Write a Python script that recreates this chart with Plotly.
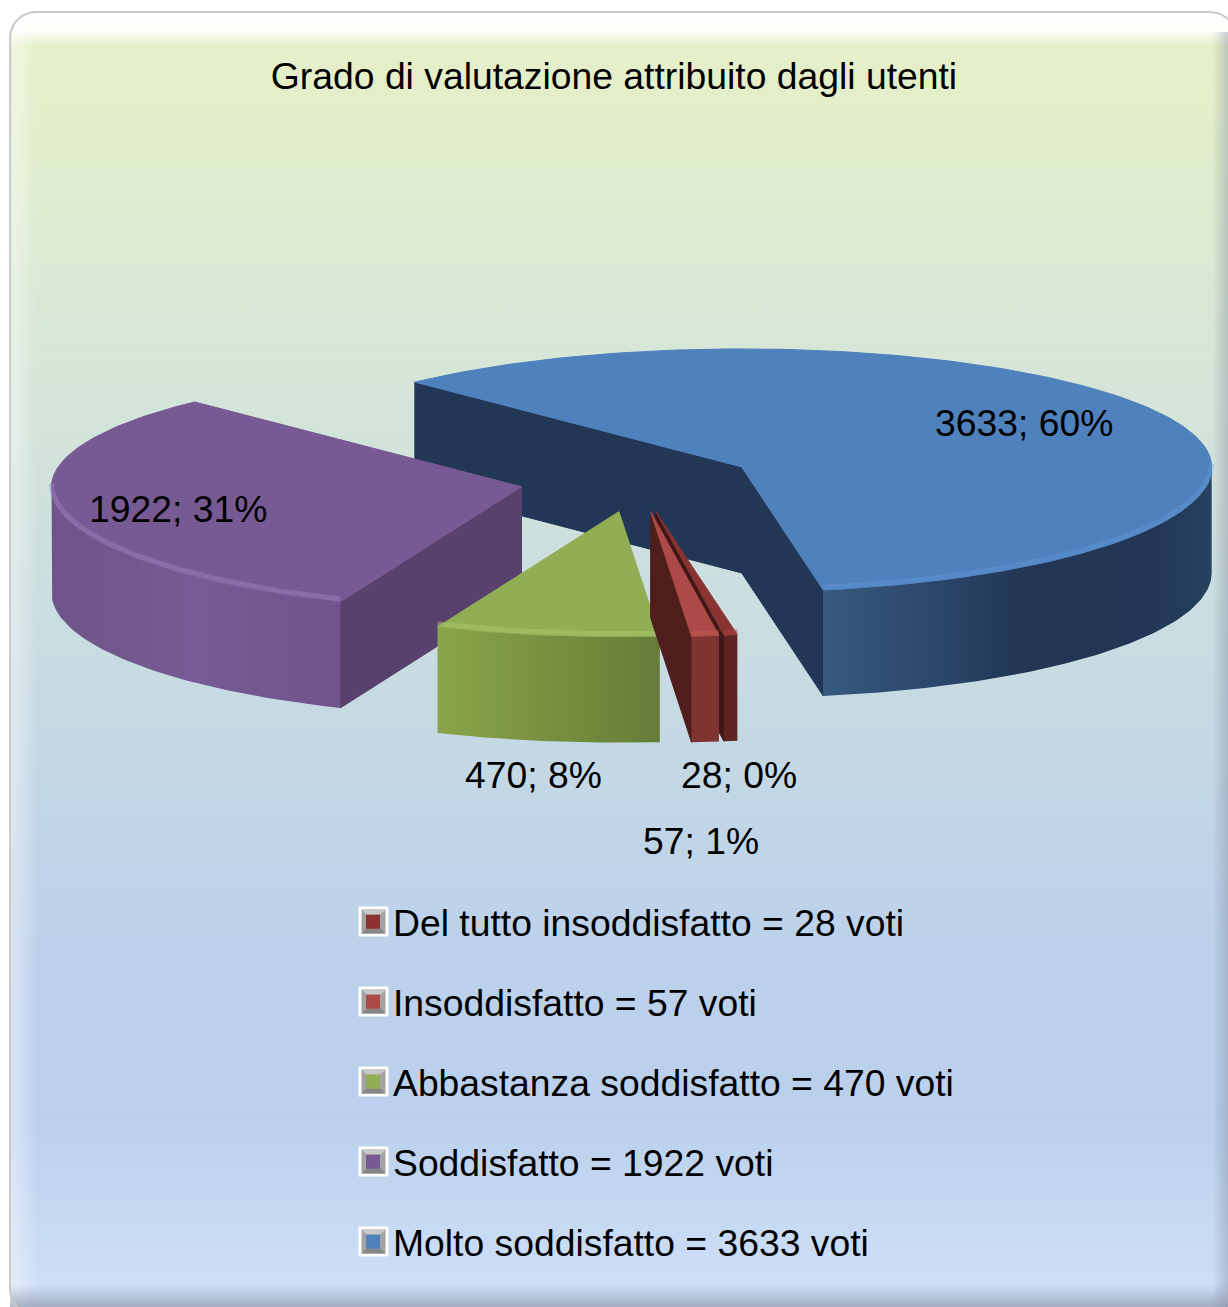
import math
import plotly.graph_objects as go

# ---- data
categories = ["Del tutto insoddisfatto", "Insoddisfatto", "Abbastanza soddisfatto", "Soddisfatto", "Molto soddisfatto"]
votes = [28, 57, 470, 1922, 3633]
percent_labels = [0, 1, 8, 31, 60]
title_text = "Grado di valutazione attribuito dagli utenti"

# ---- styles
top_colors = ["#8a3331", "#ad4a47", "#91ae55", "#775a93", "#4f81bd"]
rim_colors = ["rgba(165,70,68,0.5)", "rgba(198,90,86,0.5)", "rgba(170,200,105,0.5)",
              "rgba(160,132,196,0.45)", "rgba(105,160,225,0.32)"]
wall_colors = ["#3f1716", "#4f1d1c", "#5c7031", "#58416d", "#213755"]
outer_stops = [
    [[0, "#5e2220"], [1, "#5e2220"]],
    [[0, "#7f3432"], [1, "#7f3432"]],
    [[0, "#89a54b"], [0.5, "#77903f"], [1, "#667c38"]],
    [[0, "#6e5488"], [0.5, "#775b94"], [1, "#70538b"]],
    [[0, "#36597f"], [0.3, "#2a466a"], [0.5, "#213754"], [0.85, "#213755"], [1, "#27415f"]],
]
label_pos = [(739, 775), (701, 841), (533, 775), (178, 509), (1024, 423)]
FONT = "Liberation Sans"
FS = 37.3
W, H = 1228, 1307
CX, CY, RX, RY_BACK, RY_FRONT, RY_EXPL = 637, 481, 470, 118, 125, 124
EXPLODE, DEPTH, START_ANGLE = 0.25, 106, 170.0

fig = go.Figure()


def top_down(stops):
    """fillgradient 'vertical' runs bottom to top; write the stops top to bottom."""
    return [[round(1 - p, 4), c] for p, c in reversed(stops)]


def poly(pts, color=None, gradient=None, seam=False):
    xs = [p[0] for p in pts] + [pts[0][0]]
    ys = [p[1] for p in pts] + [pts[0][1]]
    kw = dict(fillgradient=gradient) if gradient else dict(fillcolor=color)
    line = dict(width=1, color=color) if seam else dict(width=0, color="rgba(0,0,0,0)")
    fig.add_trace(go.Scatter(x=xs, y=ys, mode="lines", fill="toself", line=line,
                             hoverinfo="skip", showlegend=False, **kw))


# ---- frame with gradient
FL, FT, FR, FB, RAD = 10, 12, 1236, 1315, 26


def frame_pts():
    pts = []
    corners = [(FR - RAD, FT + RAD, -90), (FR - RAD, FB - RAD, 0), (FL + RAD, FB - RAD, 90), (FL + RAD, FT + RAD, 180)]
    for cx, cy, a0 in corners:
        for k in range(13):
            a = math.radians(a0 + 90 * k / 12)
            pts.append((cx + RAD * math.cos(a), cy + RAD * math.sin(a)))
    return pts


frame = frame_pts()
bg_stops = [[0, "#e6f0c9"], [0.08, "#e3efca"], [0.22, "#d9e8d5"], [0.38, "#cfe1dd"], [0.55, "#c5d9e4"],
            [0.72, "#bcd1eb"], [0.85, "#bad0ec"], [0.95, "#cadcf5"], [1, "#d0e0f8"]]
poly(frame, gradient=dict(type="vertical", colorscale=top_down(bg_stops)))
poly([p for p in frame if p[0] <= 38], gradient=dict(type="horizontal", colorscale=[[0, "rgba(255,255,255,0.45)"], [0.7, "rgba(255,255,255,0.18)"], [1, "rgba(255,255,255,0)"]]))
top_band = [p for p in frame if p[1] <= FT + RAD and p[0] > W / 2] + [(FL, FT + RAD), (FL, 46), (FR, 46), (FR, FT + RAD)]
top_band = [p for p in frame if p[1] <= FT + RAD and p[0] < W / 2] + [p for p in frame if p[1] <= FT + RAD and p[0] > W / 2] + [(FR, 46), (FL, 46)]
poly(top_band, gradient=dict(type="vertical", colorscale=top_down([[0, "rgba(255,255,255,0.95)"], [0.55, "rgba(255,255,255,0.9)"], [1, "rgba(255,255,255,0)"]])))
poly([(1212, FT + 20), (FR, FT + 20), (FR, FB), (1212, FB)], gradient=dict(type="horizontal", colorscale=[[0, "rgba(120,130,150,0)"], [1, "rgba(120,130,150,0.55)"]]))
poly([(FL, 1285), (FR, 1285), (FR, FB), (FL, FB)], gradient=dict(type="vertical", colorscale=top_down([[0, "rgba(120,130,150,0)"], [1, "rgba(120,130,150,0.75)"]])))
fig.add_trace(go.Scatter(x=[p[0] for p in frame] + [frame[0][0]], y=[p[1] for p in frame] + [frame[0][1]],
                         mode="lines", line=dict(color="#c9c9c9", width=2), hoverinfo="skip", showlegend=False))

# ---- exploded 3D slices, computed from the votes
total = sum(votes)
edges = [START_ANGLE]
for v in votes:
    edges.append(edges[-1] + 360 * v / total)


def rim(apex, deg):
    t = math.radians(deg)
    ry = RY_BACK if math.cos(t) > 0 else RY_FRONT
    return (apex[0] + RX * math.sin(t), apex[1] - ry * math.cos(t))


def down(p):
    return (p[0], p[1] + DEPTH)


def arc_degs(a, b, step=1.0):
    n = max(2, int((b - a) / step) + 1)
    return [a + (b - a) * k / (n - 1) for k in range(n)]


slices = []
for i in range(len(votes)):
    a0, a1 = edges[i], edges[i + 1]
    mid = math.radians((a0 + a1) / 2)
    apex = (CX + EXPLODE * RX * math.sin(mid), CY - EXPLODE * RY_EXPL * math.cos(mid))
    slices.append((i, a0, a1, apex))

# painter's order: farthest first
for i in [4, 3, 2, 0, 1]:
    _, a0, a1, apex = slices[i]
    # radial walls facing the viewer
    for edge, normal in [(a0, a0 - 90), (a1, a1 + 90)]:
        if math.cos(math.radians(normal)) < 0:
            p = rim(apex, edge)
            poly([apex, p, down(p), down(apex)], color=wall_colors[i], seam=True)
    # outer wall: part of the arc on the front half
    spans = []
    for k in (0, 360):
        lo, hi = max(a0, 90 + k), min(a1, 270 + k)
        if hi > lo:
            spans.append((lo, hi))
    for lo, hi in spans:
        arc = [rim(apex, d) for d in arc_degs(lo, hi)]
        pts = arc + [down(q) for q in reversed(arc)]
        poly(pts, gradient=dict(type="horizontal", colorscale=outer_stops[i]))
    # top face
    poly([apex] + [rim(apex, d) for d in arc_degs(a0, a1)], color=top_colors[i], seam=True)
    # bevelled rim highlight
    for lo, hi in spans:
        arc = [rim(apex, d) for d in arc_degs(lo, hi)]
        fig.add_trace(go.Scatter(x=[q[0] for q in arc], y=[q[1] - 3 for q in arc], mode="lines",
                                 line=dict(color=rim_colors[i], width=5), hoverinfo="skip", showlegend=False))

# ---- legend entries, in the reference's order
for i, cat in enumerate(categories):
    fig.add_trace(go.Scatter(x=[None], y=[None], mode="markers", name=f"{cat} = {votes[i]} voti",
                             legendgroup=cat,
                             marker=dict(symbol="square", size=14, color=top_colors[i], line=dict(width=0)),
                             hoverinfo="skip"))

# ---- data labels
annotations = []
for i, (x, y) in enumerate(label_pos):
    annotations.append(dict(x=x, y=y, xref="x", yref="y", text=f"{votes[i]}; {percent_labels[i]}%", showarrow=False,
                            xanchor="center", yanchor="middle", font=dict(family=FONT, size=FS, color="#000000")))

# ---- bevelled white boxes sitting behind the legend swatches
ICON_X, ICON_Y, ICON_STEP = 373.5, 921.5, 80
shapes = []
for i in range(len(categories)):
    yc = ICON_Y + ICON_STEP * i
    shapes.append(dict(type="rect", xref="x", yref="y", x0=ICON_X - 15, x1=ICON_X + 15, y0=yc - 15, y1=yc + 15,
                       fillcolor="#ffffff", line=dict(width=0)))
    shapes.append(dict(type="rect", xref="x", yref="y", x0=ICON_X - 12, x1=ICON_X + 12, y0=yc - 12, y1=yc + 12,
                       fillcolor="#a3a3a3", line=dict(width=0)))
    shapes.append(dict(type="path", xref="x", yref="y",
                       path=f"M {ICON_X-12} {yc-12} L {ICON_X+12} {yc-12} L {ICON_X+7} {yc-7} L {ICON_X-7} {yc-7} Z",
                       fillcolor="#c8c8c8", line=dict(width=0)))
    shapes.append(dict(type="path", xref="x", yref="y",
                       path=f"M {ICON_X-12} {yc+12} L {ICON_X+12} {yc+12} L {ICON_X+7} {yc+7} L {ICON_X-7} {yc+7} Z",
                       fillcolor="#868686", line=dict(width=0)))

fig.update_layout(
    width=W, height=H, margin=dict(l=0, r=0, t=0, b=0),
    paper_bgcolor="#ffffff", plot_bgcolor="rgba(0,0,0,0)",
    xaxis=dict(range=[0, W], visible=False, fixedrange=True),
    yaxis=dict(range=[H, 0], visible=False, fixedrange=True),
    title=dict(text=title_text, x=0.5, xanchor="center", y=1 - 76 / H, yanchor="middle",
               font=dict(family=FONT, size=FS, color="#000000")),
    legend=dict(x=353 / W, y=1 - 891 / H, xanchor="left", yanchor="top", bgcolor="rgba(0,0,0,0)",
                font=dict(family=FONT, size=FS, color="#000000"), traceorder="grouped", tracegroupgap=28.5),
    annotations=annotations, shapes=shapes, hovermode=False,
)
fig.write_html("out.html", config=dict(displayModeBar=False),
               post_script="document.body.style.margin='0';document.body.style.overflow='hidden';")
